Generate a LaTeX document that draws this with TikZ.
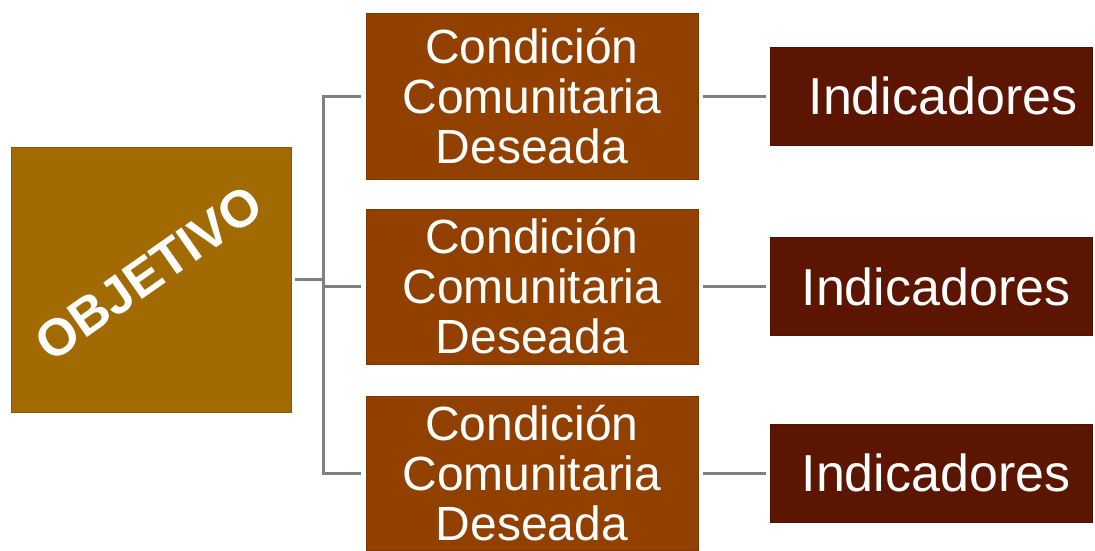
\documentclass[tikz,border=0pt]{standalone}
\usepackage{fontspec}
\setmainfont{Liberation Sans}
\definecolor{objcol}{HTML}{A26A03}
\definecolor{condcol}{HTML}{924000}
\definecolor{indcol}{HTML}{5C1501}
\definecolor{conncol}{HTML}{808080}
\tikzset{
  objbox/.style={fill=objcol, draw=objcol!85!black, line width=0.8pt, minimum width=280pt, minimum height=265pt, inner sep=0pt},
  condbox/.style={fill=condcol, draw=condcol!85!black, line width=0.8pt, minimum width=332pt, inner sep=0pt, text=white, align=center,
    font=\fontsize{48}{50}\selectfont},
  indbox/.style={fill=indcol, draw=indcol!85!black, line width=0.8pt, minimum width=322pt, minimum height=98pt, inner sep=0pt, text=white,
    font=\fontsize{52}{56}\selectfont},
  conn/.style={draw=conncol, line width=3pt}
}
\begin{document}
\begin{tikzpicture}[x=1pt,y=-1pt]
\useasboundingbox (0,0) rectangle (1095,550);
\clip (0,0) rectangle (1095,550);
\node[objbox] (obj) at (151,279.5) {};
\node[text=white, font=\bfseries\fontsize{52}{52}\selectfont, rotate=35] (objt) at (149,273) {OBJETIVO};
\node[condbox, minimum height=166pt] (c1) at (532,96) {Condición\\Comunitaria\\Deseada};
\node[condbox, minimum height=155pt] (c2) at (532,286.5) {Condición\\Comunitaria\\Deseada};
\node[condbox, minimum height=154pt] (c3) at (532,473) {Condición\\Comunitaria\\Deseada};
\node[indbox] (i1) at (931,96) {\hspace*{24pt}Indicadores};
\node[indbox] (i2) at (931,286.5) {\hspace*{10pt}Indicadores};
\node[indbox] (i3) at (931,473) {\hspace*{10pt}Indicadores};
\coordinate (j) at (323,279.5);
\coordinate (jt) at (323,96);
\coordinate (jb) at (323,473);
\draw[conn, shorten <=4pt] (obj.east) -- (j);
\draw[conn, line cap=rect] (jt) -- (jb);
\draw[conn, shorten >=5pt] (jt) -- (c1.west);
\draw[conn, shorten >=5pt] (jt |- c2.west) -- (c2.west);
\draw[conn, shorten >=5pt] (jb) -- (c3.west);
\draw[conn, shorten <=5pt, shorten >=4pt] (c1.east) -- (i1.west);
\draw[conn, shorten <=5pt, shorten >=4pt] (c2.east) -- (i2.west);
\draw[conn, shorten <=5pt, shorten >=4pt] (c3.east) -- (i3.west);
\end{tikzpicture}
\end{document}
